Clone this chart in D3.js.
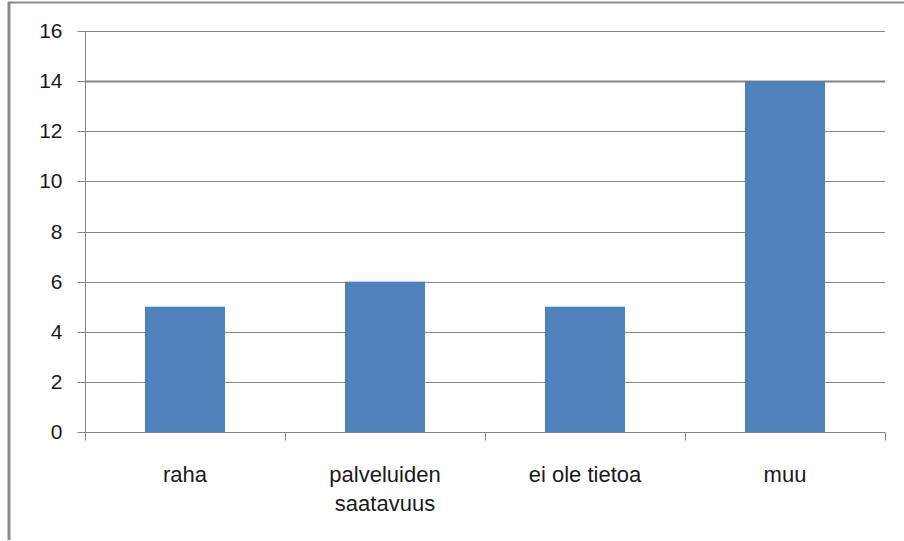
<!doctype html>
<html lang="fi">
<head>
<meta charset="UTF-8">
<title>Kaavio</title>
<script src="https://d3js.org/d3.v7.min.js"></script>
<style>
  body { margin: 0; background: #fff; }
  text { font-family: "Liberation Sans", Arial, sans-serif; fill: #1a1a1a; }
</style>
</head>
<body>
<div id="chart-area"></div>
<script>

const categories = [['raha'], ['palveluiden', 'saatavuus'], ['ei ole tietoa'], ['muu']];
const values = [5, 6, 5, 14];
const yTicks = [0, 2, 4, 6, 8, 10, 12, 14, 16];

const W = 904, H = 541;
const margin = { top: 31, right: 19, bottom: 109, left: 85 };
const chartW = W - margin.left - margin.right;
const chartH = H - margin.top - margin.bottom;

const svg = d3.select('#chart-area')
    .append('svg')
    .attr('width', W)
    .attr('height', H);

// outer frame (only top and left edges are visible)
svg.append('line')
    .attr('x1', 8).attr('x2', W).attr('y1', 2.5).attr('y2', 2.5)
    .attr('stroke', '#8a8a8a').attr('stroke-width', 2);
svg.append('line')
    .attr('x1', 9).attr('x2', 9).attr('y1', 2).attr('y2', 540)
    .attr('stroke', '#8a8a8a').attr('stroke-width', 3);

const g = svg.append('g')
    .attr('transform', `translate(${margin.left},${margin.top})`);

const keys = categories.map((c, i) => i);
const x = d3.scaleBand()
    .domain(keys)
    .range([0, chartW])
    .paddingInner(0.6)
    .paddingOuter(0.3);

const y = d3.scaleLinear()
    .domain([0, 16])
    .range([chartH, 0]);

// grid
g.append('g')
    .selectAll('line')
    .data(yTicks.filter(d => d > 0))
    .join('line')
    .attr('x1', 0).attr('x2', chartW)
    .attr('y1', d => Math.round(y(d)) + 0.5)
    .attr('y2', d => Math.round(y(d)) + 0.5)
    .attr('stroke', '#868686')
    .attr('stroke-width', d => d === 14 ? 2 : 1);

// bars
g.selectAll('rect')
    .data(values)
    .join('rect')
    .attr('x', (d, i) => x(i))
    .attr('y', d => y(d))
    .attr('width', x.bandwidth())
    .attr('height', d => chartH - y(d))
    .attr('fill', '#4f81bd');

// y axis
const yAxis = d3.axisLeft(y).tickValues(yTicks).tickSize(8).tickPadding(15);
const yAxisG = g.append('g')
    .attr('transform', 'translate(0.5,0)')
    .call(yAxis);
yAxisG.select('.domain').attr('stroke', '#868686').attr('d', `M0,0V${chartH}`);
yAxisG.selectAll('.tick line').attr('stroke', '#868686');
yAxisG.selectAll('.tick text')
    .attr('font-size', '21px')
    .attr('font-family', '"Liberation Sans", Arial, sans-serif')
    .style('fill', '#1a1a1a');
yAxisG.selectAll('.tick').attr('transform', d => `translate(0,${Math.round(y(d)) + 0.5})`);

// x axis with ticks at category boundaries
const xAxisG = g.append('g')
    .attr('transform', `translate(0,${chartH + 0.5})`);
xAxisG.append('line')
    .attr('x1', 0).attr('x2', chartW)
    .attr('stroke', '#868686');
xAxisG.selectAll('.bound')
    .data(d3.range(categories.length + 1))
    .join('line')
    .attr('class', 'bound')
    .attr('x1', i => Math.round(i * chartW / categories.length) + 0.5)
    .attr('x2', i => Math.round(i * chartW / categories.length) + 0.5)
    .attr('y1', 0).attr('y2', 8)
    .attr('stroke', '#868686');

const lbl = xAxisG.selectAll('.cat')
    .data(categories)
    .join('text')
    .attr('class', 'cat')
    .attr('text-anchor', 'middle')
    .attr('font-size', '22px')
    .attr('transform', (d, i) => `translate(${x(i) + x.bandwidth() / 2},49)`);
lbl.selectAll('tspan')
    .data(d => d)
    .join('tspan')
    .attr('x', 0)
    .attr('dy', (d, i) => i === 0 ? 0 : 29)
    .text(d => d);

</script>
</body>
</html>
